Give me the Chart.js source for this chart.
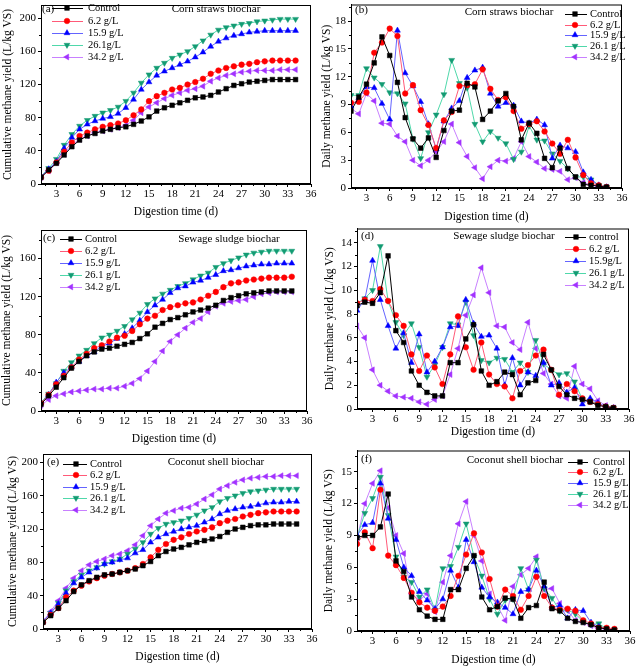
<!DOCTYPE html>
<html>
<head>
<meta charset="utf-8">
<script src="https://cdn.jsdelivr.net/npm/chart.js@4/dist/chart.umd.min.js"></script>
<style>
  body { margin: 0; background: #fff; }
  #wrap { position: relative; width: 638px; height: 667px; overflow: hidden; }
  canvas { position: absolute; }
</style>
</head>
<body>
<div id="wrap"></div>
<script>
// 消化日数 (d)
const days = [1, 2, 3, 4, 5, 6, 7, 8, 9, 10, 11, 12, 13, 14, 15, 16, 17, 18, 19, 20, 21, 22, 23, 24, 25, 26, 27, 28, 29, 30, 31, 32, 33, 34];

// 目盛り
const xTicks = [3, 6, 9, 12, 15, 18, 21, 24, 27, 30, 33, 36];
const cumTicks200 = [0, 40, 80, 120, 160, 200];
const cumTicks160 = [0, 40, 80, 120, 160];
const dailyTicks18 = [0, 3, 6, 9, 12, 15, 18];
const dailyTicks14 = [0, 2, 4, 6, 8, 10, 12, 14];
const dailyTicks15 = [0, 3, 6, 9, 12, 15];

// 凡例ラベル
const labelsA = ["Control", "6.2 g/L", "15.9 g/L", "26.1g/L", "34.2 g/L"];
const labelsStd = ["Control", "6.2 g/L", "15.9 g/L", "26.1 g/L", "34.2 g/L"];
const labelsD = ["control", "6.2 g/L", "15.9g/L", "26.1 g/L", "34.2 g/L"];

// (a) Corn straws biochar - cumulative
const cornCumControl = [8, 17, 25, 35, 45, 53, 58, 61, 64, 66, 68, 69, 72, 76, 81, 88, 92, 95, 98, 101, 104, 105, 107, 111, 115, 119, 121, 123, 124, 125, 126, 126, 126, 126];
const cornCum62 = [8, 16, 26, 39, 50, 58, 62, 66, 69, 71, 73, 77, 83, 90, 100, 106, 110, 114, 116, 120, 123, 127, 133, 137, 140, 142, 144, 145, 147, 148, 149, 149, 149, 149];
const cornCum159 = [9, 18, 27, 43, 56, 66, 72, 76, 79, 81, 85, 92, 102, 114, 123, 131, 136, 140, 144, 148, 153, 159, 166, 172, 176, 179, 181, 183, 184, 185, 185, 185, 185, 185];
const cornCum261 = [9, 19, 30, 47, 60, 70, 77, 82, 86, 89, 93, 100, 110, 122, 132, 140, 146, 152, 156, 160, 166, 173, 180, 186, 189, 191, 193, 194, 196, 197, 198, 199, 199, 199];
const cornCum342 = [8, 16, 26, 36, 47, 54, 58, 62, 64, 66, 68, 71, 77, 86, 93, 98, 103, 107, 110, 113, 115, 118, 124, 128, 131, 133, 135, 136, 137, 137, 137, 138, 138, 138];

// (b) Corn straws biochar - daily
const cornDayControl = [8.3, 9.8, 11.2, 13.5, 16.3, 14.3, 11.4, 7.6, 5.3, 4.3, 5.4, 3.3, 6.2, 8.3, 8.4, 11.3, 10.9, 7.4, 8.3, 9.4, 10.2, 8.8, 5.2, 7.0, 5.9, 3.2, 2.2, 4.3, 2.1, 1.2, 0.4, 0.3, 0.2, 0.1];
const cornDay62 = [9.2, 9.3, 10.3, 14.6, 15.7, 17.2, 16.4, 10.2, 11.1, 8.4, 6.8, 4.3, 7.3, 8.2, 11.0, 11.1, 11.2, 12.8, 10.7, 9.5, 9.8, 8.3, 6.4, 6.9, 7.2, 6.1, 4.8, 3.7, 5.2, 3.3, 1.4, 0.5, 0.3, 0.1];
const cornDay159 = [8.8, 9.7, 10.9, 10.8, 9.1, 7.4, 17.0, 12.4, 11.0, 9.3, 6.9, 4.2, 7.2, 8.6, 9.4, 11.9, 12.7, 13.0, 10.2, 8.8, 9.2, 8.9, 7.2, 7.0, 7.4, 6.8, 3.2, 4.6, 4.3, 3.9, 1.7, 0.9, 0.3, 0.1];
const cornDay261 = [10.0, 10.0, 12.9, 11.9, 11.2, 10.3, 10.2, 9.1, 5.3, 3.2, 6.0, 7.9, 10.1, 13.8, 11.3, 10.8, 6.9, 5.0, 6.1, 5.4, 4.8, 3.1, 3.9, 6.7, 5.2, 5.1, 3.7, 2.9, 2.1, 1.2, 1.2, 0.9, 0.3, 0.1];
const cornDay342 = [8.6, 8.0, 10.2, 9.4, 7.0, 6.9, 5.6, 5.0, 3.0, 2.4, 3.0, 3.9, 5.0, 6.9, 4.9, 3.4, 2.2, 1.0, 2.3, 3.0, 2.9, 3.2, 5.0, 3.4, 2.8, 2.1, 2.0, 1.8, 0.9, 1.1, 0.6, 0.3, 0.2, 0.1];

// (c) Sewage sludge biochar - cumulative
const sewageCumControl = [7, 16, 25, 35, 45, 52, 58, 62, 65, 66, 68, 70, 72, 76, 81, 88, 92, 96, 98, 101, 104, 106, 108, 111, 116, 119, 121, 123, 124, 125, 126, 126, 126, 126];
const sewageCum62 = [8, 17, 28, 37, 46, 54, 60, 66, 69, 73, 77, 79, 84, 91, 97, 100, 106, 109, 111, 113, 114, 117, 121, 125, 130, 134, 135, 137, 138, 139, 140, 140, 140, 141];
const sewageCum159 = [8, 17, 30, 40, 46, 52, 58, 62, 68, 71, 76, 81, 87, 95, 104, 111, 117, 124, 129, 131, 135, 137, 140, 143, 147, 148, 150, 152, 153, 154, 154, 155, 155, 155];
const sewageCum261 = [9, 18, 29, 42, 51, 58, 64, 71, 77, 80, 84, 89, 96, 103, 112, 118, 123, 127, 131, 134, 138, 142, 145, 151, 155, 158, 161, 164, 166, 167, 168, 168, 168, 168];
const sewageCum342 = [6, 12, 16, 18, 20, 21, 22, 23, 23, 24, 24, 26, 29, 34, 42, 52, 63, 73, 80, 87, 93, 97, 104, 110, 113, 115, 116, 117, 120, 123, 124, 125, 125, 125];

// (d) Sewage sludge biochar - daily
const sewageDayControl = [8.7, 9.0, 8.9, 9.8, 12.9, 6.6, 5.6, 3.2, 2.0, 1.4, 1.1, 1.1, 3.9, 3.9, 5.9, 7.1, 3.2, 2.0, 2.3, 3.1, 2.9, 1.2, 2.2, 2.4, 4.6, 3.3, 1.9, 1.2, 0.9, 0.8, 0.6, 0.3, 0.2, 0.1];
const sewageDay62 = [8.9, 9.2, 9.1, 10.1, 9.1, 7.9, 7.0, 4.6, 3.2, 4.5, 3.5, 2.1, 4.6, 7.8, 5.2, 3.3, 5.6, 2.9, 2.1, 1.9, 0.9, 3.2, 3.7, 4.5, 5.0, 3.3, 1.2, 2.1, 1.5, 0.9, 0.6, 0.4, 0.2, 0.1];
const sewageDay159 = [8.3, 9.2, 12.5, 9.2, 7.0, 5.1, 6.4, 3.9, 6.3, 3.1, 4.0, 5.2, 6.9, 7.0, 9.2, 7.2, 6.1, 6.2, 5.1, 2.0, 4.3, 2.0, 3.1, 2.8, 3.9, 2.0, 2.2, 1.4, 1.8, 0.4, 0.9, 0.5, 0.2, 0.1];
const sewageDay261 = [8.9, 9.3, 10.0, 13.7, 9.1, 7.3, 6.2, 7.2, 5.2, 2.7, 3.7, 5.2, 7.2, 7.1, 9.0, 6.2, 4.1, 3.9, 4.3, 4.2, 3.1, 3.9, 3.1, 5.8, 3.8, 3.3, 2.9, 3.0, 2.3, 0.8, 0.7, 0.4, 0.2, 0.1];
const sewageDay342 = [7.0, 6.0, 3.3, 2.0, 1.5, 1.1, 1.0, 0.9, 0.6, 0.4, 0.8, 1.1, 2.9, 5.1, 7.9, 9.6, 11.9, 9.8, 7.0, 6.9, 5.6, 5.0, 7.3, 5.1, 3.0, 2.1, 1.1, 0.9, 3.6, 2.1, 1.7, 0.7, 0.3, 0.1];

// (e) Coconut shell biochar - cumulative
const coconutCumControl = [8, 16, 25, 34, 45, 53, 58, 62, 65, 66, 68, 70, 72, 76, 81, 88, 93, 96, 98, 101, 104, 106, 108, 111, 116, 120, 122, 124, 125, 125, 126, 126, 126, 126];
const coconutCum62 = [8, 17, 25, 38, 46, 52, 57, 61, 64, 66, 68, 70, 73, 78, 86, 95, 102, 107, 110, 114, 117, 119, 122, 127, 130, 132, 135, 137, 139, 140, 141, 141, 141, 141];
const coconutCum159 = [9, 19, 30, 43, 55, 62, 68, 73, 78, 80, 83, 85, 91, 95, 104, 110, 114, 117, 120, 122, 124, 128, 132, 138, 142, 144, 146, 147, 149, 151, 152, 152, 153, 153];
const coconutCum261 = [9, 19, 31, 46, 57, 65, 70, 74, 78, 81, 84, 90, 96, 104, 114, 121, 126, 128, 130, 133, 137, 142, 146, 153, 157, 160, 163, 165, 166, 167, 168, 168, 168, 168];
const coconutCum342 = [9, 21, 34, 49, 61, 70, 77, 81, 84, 88, 90, 94, 101, 112, 124, 132, 139, 142, 145, 146, 150, 156, 161, 168, 172, 176, 179, 181, 182, 183, 183, 184, 184, 184];

// (f) Coconut shell biochar - daily
const coconutDayControl = [8.8, 9.0, 9.0, 9.8, 12.9, 6.6, 5.6, 3.2, 2.0, 1.4, 1.1, 1.1, 3.9, 3.9, 5.9, 7.1, 3.2, 2.0, 2.3, 3.1, 3.0, 1.2, 2.2, 2.4, 4.6, 2.1, 1.9, 1.2, 0.9, 0.8, 0.6, 0.3, 0.2, 0.1];
const coconutDay62 = [8.2, 9.3, 7.8, 13.3, 7.1, 6.2, 5.0, 3.6, 2.7, 2.2, 1.9, 2.3, 3.3, 5.2, 7.2, 9.2, 7.4, 4.9, 2.3, 3.9, 3.3, 2.0, 3.3, 5.1, 3.3, 2.2, 2.0, 2.1, 1.9, 1.0, 0.7, 0.3, 0.3, 0.2];
const coconutDay159 = [9.0, 10.0, 10.2, 13.9, 10.6, 8.6, 6.0, 5.2, 3.7, 2.9, 2.1, 3.0, 5.7, 4.1, 8.6, 6.5, 4.1, 3.2, 2.7, 2.2, 1.6, 3.7, 3.9, 5.7, 4.2, 2.2, 2.4, 1.2, 2.0, 1.9, 0.8, 0.4, 0.2, 0.1];
const coconutDay261 = [8.8, 11.1, 12.5, 14.5, 10.9, 7.0, 5.1, 4.6, 3.2, 3.9, 2.0, 5.9, 6.1, 7.9, 10.1, 7.0, 5.2, 3.0, 1.6, 2.9, 3.0, 5.9, 3.9, 6.7, 4.0, 3.1, 1.9, 2.0, 1.6, 0.9, 0.6, 0.7, 0.2, 0.1];
const coconutDay342 = [8.6, 12.0, 13.9, 15.1, 11.6, 9.0, 7.3, 3.5, 2.9, 3.5, 1.8, 4.6, 7.1, 10.1, 12.2, 9.0, 6.6, 3.5, 2.4, 1.0, 4.2, 5.3, 5.9, 7.0, 3.9, 4.0, 2.6, 1.9, 1.0, 0.8, 0.5, 0.2, 0.2, 0.1];

// 系列ごとの見た目 (Origin風)
const seriesStyles = [
  { marker: "#000000", line: "#000000", pointStyle: "rect", rotation: 0, radius: 3.3 },
  { marker: "#ff0000", line: "#ff5a78", pointStyle: "circle", rotation: 0, radius: 2.8 },
  { marker: "#0000ff", line: "#6464ff", pointStyle: "triangle", rotation: 0, radius: 3.4 },
  { marker: "#139b73", line: "#4fd8aa", pointStyle: "triangle", rotation: 180, radius: 3.4 },
  { marker: "#a232ff", line: "#c880ff", pointStyle: "triangle", rotation: 270, radius: 3.4 },
];

const FONT = "'Liberation Serif', 'Times New Roman', serif";
const CUM_TITLE = "Cumulative methane yield (L/kg VS)";
const DAY_TITLE = "Daily methane yield (L/kg VS)";

// パネル配置 (box: キャンバス位置, plot: 描画領域 left/top/right/bottom)
const panels = [
  {
    tag: "(a)", title: "Corn straws biochar", labels: labelsA,
    series: [cornCumControl, cornCum62, cornCum159, cornCum261, cornCum342],
    yTicks: cumTicks200, yMax: 216, yTitle: CUM_TITLE,
    box: [0, 0, 319, 222], plot: [41, 5, 311, 184], yTitleX: 8, xTitleY: 212,
    tagPos: [42, 9], titlePos: [216, 9],
    legend: { x1: 52, x2: 83, xm: 67, xt: 88, rows: [8, 21, 33, 45, 57] },
  },
  {
    tag: "(b)", title: "Corn straws biochar", labels: labelsStd,
    series: [cornDayControl, cornDay62, cornDay159, cornDay261, cornDay342],
    yTicks: dailyTicks18, yMax: 19.8, yTitle: DAY_TITLE,
    box: [320, 0, 318, 224], plot: [351, 3, 622, 188], yTitleX: 327, xTitleY: 217,
    tagPos: [355, 10], titlePos: [509, 12],
    legend: { x1: 565, x2: 587, xm: 575, xt: 590, rows: [14, 25, 35, 46, 57] },
  },
  {
    tag: "(c)", title: "Sewage sludge biochar", labels: labelsStd,
    series: [sewageCumControl, sewageCum62, sewageCum159, sewageCum261, sewageCum342],
    yTicks: cumTicks160, yMax: 190, yTitle: CUM_TITLE,
    box: [0, 224, 319, 222], plot: [41, 230, 307, 411], yTitleX: 7, xTitleY: 439,
    tagPos: [43, 238], titlePos: [229, 239],
    legend: { x1: 60, x2: 82, xm: 71, xt: 85, rows: [239, 251, 263, 275, 287] },
  },
  {
    tag: "(d)", title: "Sewage sludge biochar", labels: labelsD,
    series: [sewageDayControl, sewageDay62, sewageDay159, sewageDay261, sewageDay342],
    yTicks: dailyTicks14, yMax: 15.2, yTitle: DAY_TITLE,
    box: [320, 224, 318, 216], plot: [357, 226, 629, 409], yTitleX: 330, xTitleY: 432,
    tagPos: [361, 236], titlePos: [504, 236],
    legend: { x1: 565, x2: 586, xm: 576, xt: 589, rows: [237, 249, 261, 273, 285] },
  },
  {
    tag: "(e)", title: "Coconut shell biochar", labels: labelsStd,
    series: [coconutCumControl, coconutCum62, coconutCum159, coconutCum261, coconutCum342],
    yTicks: cumTicks200, yMax: 210, yTitle: CUM_TITLE,
    box: [0, 446, 319, 221], plot: [43, 454, 312, 629], yTitleX: 13, xTitleY: 657,
    tagPos: [47, 462], titlePos: [216, 462],
    legend: { x1: 63, x2: 87, xm: 76, xt: 90, rows: [464, 475, 487, 498, 510] },
  },
  {
    tag: "(f)", title: "Coconut shell biochar", labels: labelsStd,
    series: [coconutDayControl, coconutDay62, coconutDay159, coconutDay261, coconutDay342],
    yTicks: dailyTicks15, yMax: 17, yTitle: DAY_TITLE,
    box: [320, 446, 318, 221], plot: [357, 450, 630, 631], yTitleX: 329, xTitleY: 660,
    tagPos: [361, 459], titlePos: [515, 460],
    legend: { x1: 568, x2: 588, xm: 580, xt: 593, rows: [462, 472, 483, 494, 505] },
  },
];

// マーカー描画 (Chart.helpers が無い場合の予備つき)
function drawMarker(ctx, st, x, y) {
  ctx.fillStyle = st.marker;
  ctx.strokeStyle = st.marker;
  ctx.lineWidth = 0.5;
  if (Chart.helpers && Chart.helpers.drawPoint) {
    Chart.helpers.drawPoint(ctx, { pointStyle: st.pointStyle, rotation: st.rotation, radius: st.radius, borderWidth: 0.5 }, x, y);
    return;
  }
  ctx.beginPath();
  ctx.arc(x, y, st.radius, 0, Math.PI * 2);
  ctx.fill();
}

// 枠線・補助目盛り・凡例・タイトルを描くプラグイン
function makeDecor(p) {
  const ox = p.box[0], oy = p.box[1];
  return {
    id: "panelDecor",
    afterDatasetsDraw(chart) {
      const { ctx, chartArea: a, scales } = chart;
      ctx.save();
      ctx.strokeStyle = "#000";
      ctx.lineWidth = 1;
      ctx.strokeRect(a.left + 0.5, a.top + 0.5, a.right - a.left - 1, a.bottom - a.top - 1);
      // 補助目盛り
      ctx.beginPath();
      for (let i = 0; i < xTicks.length; i++) {
        const v = xTicks[i] - 1.5;
        const px = Math.round(scales.x.getPixelForValue(v)) + 0.5;
        ctx.moveTo(px, a.bottom);
        ctx.lineTo(px, a.bottom + 2);
      }
      const yt = p.yTicks;
      const step = yt[1] - yt[0];
      for (let i = 0; i < yt.length; i++) {
        const v = yt[i] + step / 2;
        if (v >= scales.y.max) continue;
        const py = Math.round(scales.y.getPixelForValue(v)) + 0.5;
        ctx.moveTo(a.left, py);
        ctx.lineTo(a.left - 2, py);
      }
      ctx.stroke();
      ctx.restore();
    },
    afterDraw(chart) {
      const ctx = chart.ctx;
      ctx.save();
      ctx.fillStyle = "#000";
      ctx.textBaseline = "middle";
      ctx.font = "11px " + FONT;
      ctx.textAlign = "left";
      ctx.fillText(p.tag, p.tagPos[0] - ox, p.tagPos[1] - oy);
      ctx.textAlign = "center";
      ctx.fillText(p.title, p.titlePos[0] - ox, p.titlePos[1] - oy);
      // 凡例
      const lg = p.legend;
      ctx.font = "10.5px " + FONT;
      ctx.textAlign = "left";
      p.labels.forEach((lab, i) => {
        const st = seriesStyles[i];
        const y = lg.rows[i] - oy;
        ctx.strokeStyle = st.line;
        ctx.lineWidth = 1;
        ctx.beginPath();
        ctx.moveTo(lg.x1 - ox, y + 0.5);
        ctx.lineTo(lg.x2 - ox, y + 0.5);
        ctx.stroke();
        drawMarker(ctx, st, lg.xm - ox, y);
        ctx.fillStyle = "#000";
        ctx.fillText(lab, lg.xt - ox, y);
      });
      ctx.restore();
    },
  };
}

Chart.defaults.font.family = FONT;
Chart.defaults.color = "#000";

const wrap = document.getElementById("wrap");

panels.forEach((p) => {
  const [bx, by, bw, bh] = p.box;
  const [pl, pt, pr, pb] = p.plot;
  const canvas = document.createElement("canvas");
  canvas.width = bw;
  canvas.height = bh;
  canvas.style.left = bx + "px";
  canvas.style.top = by + "px";
  canvas.style.width = bw + "px";
  canvas.style.height = bh + "px";
  wrap.appendChild(canvas);

  const titleFont = 11.5;
  const lh = titleFont * 1.2;

  const datasets = p.series.map((vals, i) => {
    const st = seriesStyles[i];
    return {
      label: p.labels[i],
      data: vals.map((v, k) => ({ x: days[k], y: v })),
      borderColor: st.line,
      borderWidth: 1,
      backgroundColor: st.marker,
      pointBackgroundColor: st.marker,
      pointBorderColor: st.marker,
      pointBorderWidth: 0.5,
      pointStyle: st.pointStyle,
      pointRotation: st.rotation,
      pointRadius: st.radius,
      tension: 0,
      fill: false,
    };
  });

  new Chart(canvas.getContext("2d"), {
    type: "line",
    data: { datasets: datasets },
    options: {
      responsive: false,
      animation: false,
      devicePixelRatio: 1,
      layout: { padding: { left: 0, bottom: 0, top: pt - by, right: bx + bw - pr } },
      plugins: {
        legend: { display: false },
        tooltip: { enabled: false },
      },
      scales: {
        x: {
          type: "linear",
          min: 1,
          max: 36,
          afterBuildTicks: (scale) => {
            scale.ticks = xTicks.map((v) => ({ value: v }));
          },
          afterFit: (scale) => {
            scale.height = by + bh - pb;
            scale.paddingLeft = 0;
            scale.paddingRight = 0;
          },
          ticks: { font: { size: 11 }, padding: 1, maxRotation: 0, autoSkip: false },
          grid: { drawOnChartArea: false, drawTicks: true, tickLength: 3, color: "#000" },
          border: { display: true, color: "#000" },
          title: {
            display: true,
            text: "Digestion time (d)",
            font: { size: titleFont },
            padding: { top: 0, bottom: Math.max(0, by + bh - p.xTitleY - lh / 2) },
          },
        },
        y: {
          type: "linear",
          min: 0,
          max: p.yMax,
          afterBuildTicks: (scale) => {
            scale.ticks = p.yTicks.map((v) => ({ value: v }));
          },
          afterFit: (scale) => {
            scale.width = pl - bx;
            scale.paddingTop = 0;
            scale.paddingBottom = 0;
          },
          ticks: { font: { size: 11 }, padding: 2, autoSkip: false },
          grid: { drawOnChartArea: false, drawTicks: true, tickLength: 3, color: "#000" },
          border: { display: true, color: "#000" },
          title: {
            display: true,
            text: p.yTitle,
            font: { size: titleFont },
            padding: { top: Math.max(0, p.yTitleX - bx - lh / 2), bottom: 0 },
          },
        },
      },
    },
    plugins: [makeDecor(p)],
  });
});
</script>
</body>
</html>
